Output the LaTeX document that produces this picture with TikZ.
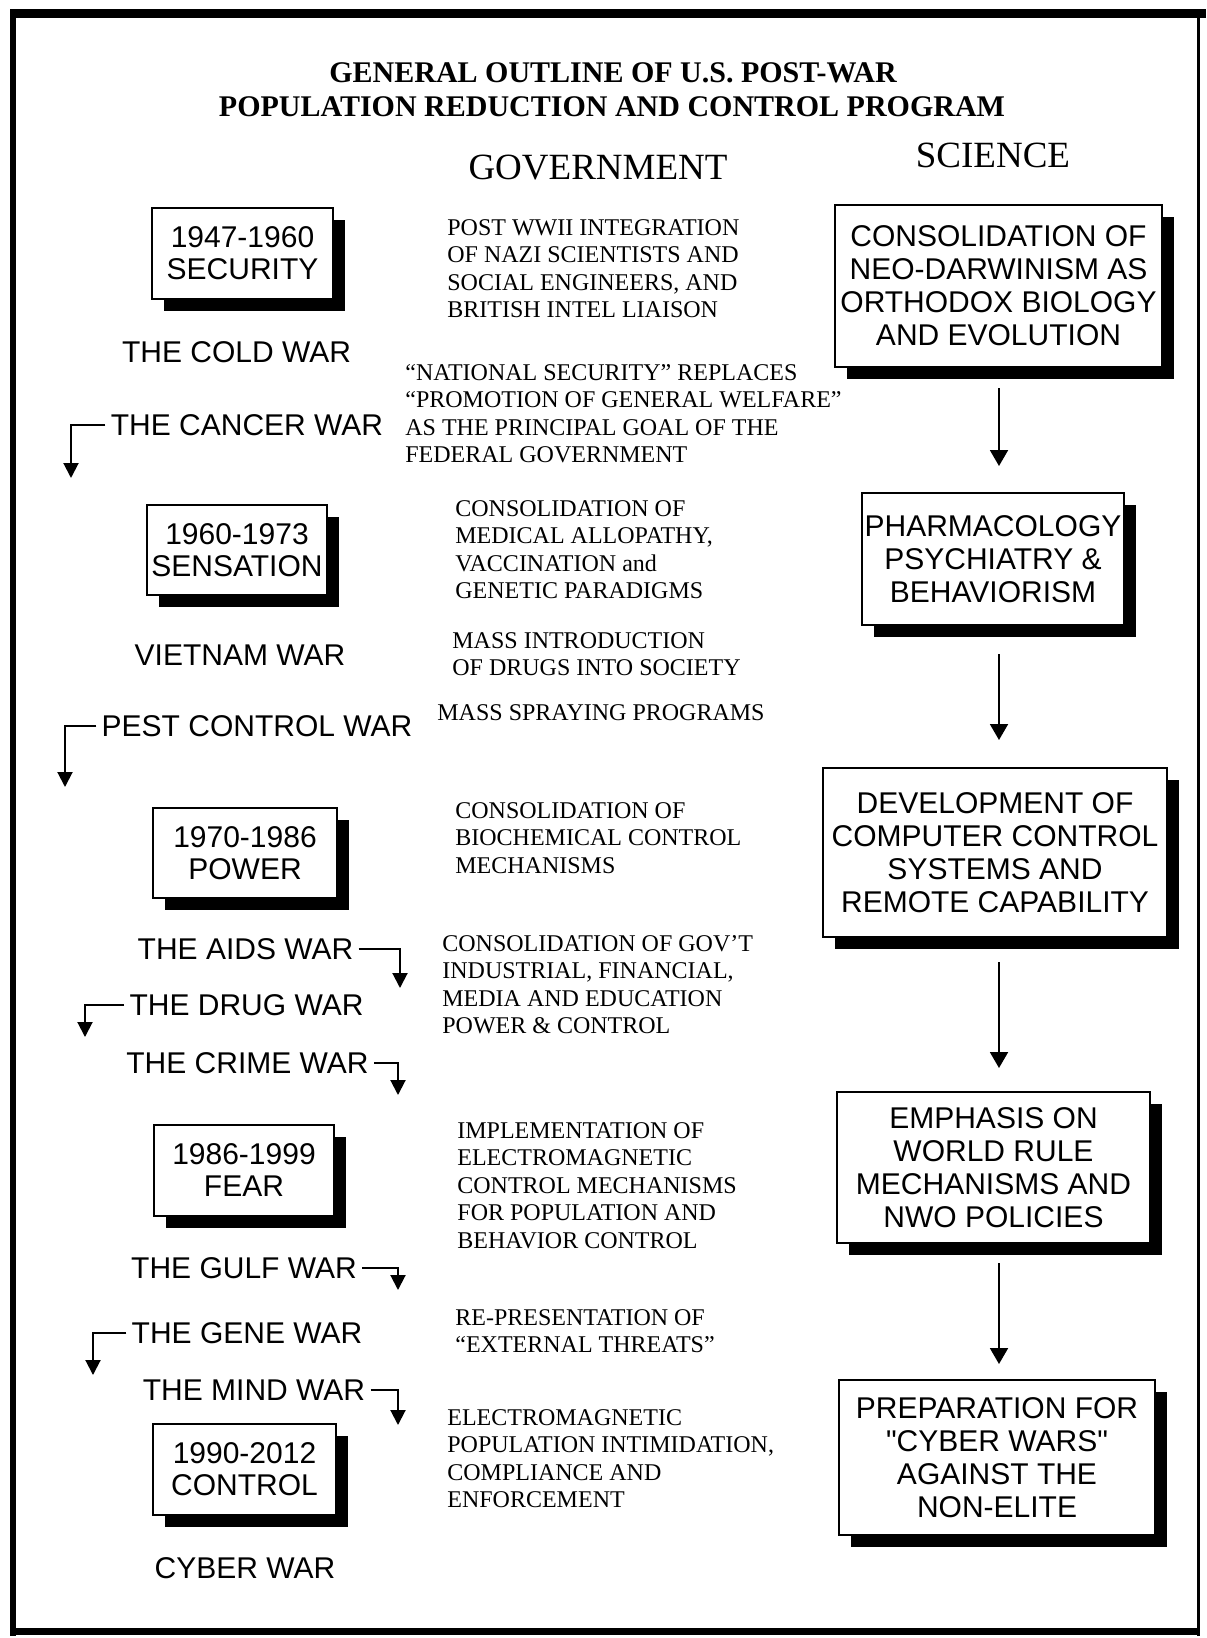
\documentclass[tikz,border=0pt]{standalone}
\usepackage{fontspec}
\setmainfont{Liberation Serif}
\newfontfamily\arialf{Liberation Sans}
\usetikzlibrary{arrows.meta,shadows,calc}
\begin{document}
\begin{tikzpicture}[x=0.5pt,y=-0.5pt,
  boxbase/.style={draw,line width=1pt,fill=white,align=center,inner sep=0pt,
    general shadow={fill=black,shadow xshift=6pt,shadow yshift=-6pt}},
  erabox/.style={boxbase,font=\arialf\fontsize{15}{16}\selectfont},
  scibox/.style={boxbase,font=\arialf\fontsize{15}{16.5}\selectfont},
  war/.style={font=\arialf\fontsize{15}{18}\selectfont,inner sep=2.5pt},
  gov/.style={anchor=north west,align=left,inner sep=0pt,font=\fontsize{12}{13.75}\selectfont},
  sarr/.style={line width=1pt,-{Triangle[width=9pt,length=8pt]}},
  warr/.style={line width=1pt,-{Triangle[width=7.5pt,length=7.5pt]}}]
\fill[white] (0,0) rectangle (1206,1638);
\useasboundingbox (0,0) rectangle (1206,1638);
% frame
\fill[black] (10,9) rectangle (1206,18);
\fill[black] (10,9) rectangle (16,1636);
\fill[black] (1197,9) rectangle (1200,1636);
\fill[black] (10,1628) rectangle (1200,1635);
% titles
\node[font=\bfseries\fontsize{15}{18}\selectfont] (t1) at (613,73) {GENERAL OUTLINE OF U.S. POST-WAR};
\node[font=\bfseries\fontsize{15}{18}\selectfont] (t2) at (612,107) {POPULATION REDUCTION AND CONTROL PROGRAM};
\node[font=\fontsize{18.5}{20}\selectfont] (gov) at (598,168) {GOVERNMENT};
\node[font=\fontsize{18.5}{20}\selectfont] (sci) at (993,155) {SCIENCE};
% era boxes
\node[erabox,minimum width=90.5pt,minimum height=45.5pt] (E1) at (242.5,253.5) {1947-1960\\SECURITY};
\node[erabox,minimum width=90pt,minimum height=45pt] (E2) at (237,550) {1960-1973\\SENSATION};
\node[erabox,minimum width=92pt,minimum height=45pt] (E3) at (245,853) {1970-1986\\POWER};
\node[erabox,minimum width=90pt,minimum height=45.5pt] (E4) at (244,1170) {1986-1999\\FEAR};
\node[erabox,minimum width=91.5pt,minimum height=45.5pt] (E5) at (244.5,1469) {1990-2012\\CONTROL};
% war labels
\node[war] (cold) at (236.5,352) {THE COLD WAR};
\node[war] (cancer) at (247,425) {THE CANCER WAR};
\node[war] (viet) at (240,655) {VIETNAM WAR};
\node[war] (pest) at (257,726) {PEST CONTROL WAR};
\node[war] (aids) at (245.5,949) {THE AIDS WAR};
\node[war] (drug) at (246.5,1005) {THE DRUG WAR};
\node[war] (crime) at (247.5,1063) {THE CRIME WAR};
\node[war] (gulf) at (244,1268) {THE GULF WAR};
\node[war] (gene) at (247,1333) {THE GENE WAR};
\node[war] (mind) at (254,1390) {THE MIND WAR};
\node[war] (cyber) at (245,1568) {CYBER WAR};
% war connectors
\coordinate (cancerend) at (71,478);
\coordinate (pestend) at (65,787);
\coordinate (aidsend) at (400,988);
\coordinate (drugend) at (85,1037);
\coordinate (crimeend) at (398,1095);
\coordinate (gulfend) at (398,1290);
\coordinate (geneend) at (93,1375);
\coordinate (mindend) at (398,1425);
\draw[warr] (cancer.west) -| (cancerend);
\draw[warr] (pest.west) -| (pestend);
\draw[warr] (aids.east) -| (aidsend);
\draw[warr] (drug.west) -| (drugend);
\draw[warr] (crime.east) -| (crimeend);
\draw[warr] (gulf.east) -| (gulfend);
\draw[warr] (gene.west) -| (geneend);
\draw[warr] (mind.east) -| (mindend);
% government texts
\node[gov] (g1) at (447,219) {POST WWII INTEGRATION\\OF NAZI SCIENTISTS AND\\SOCIAL ENGINEERS, AND\\BRITISH INTEL LIAISON};
\node[gov] (g2) at (405,364) {``NATIONAL SECURITY'' REPLACES\\``PROMOTION OF GENERAL WELFARE''\\AS THE PRINCIPAL GOAL OF THE\\FEDERAL GOVERNMENT};
\node[gov] (g3) at (455,500) {CONSOLIDATION OF\\MEDICAL ALLOPATHY,\\VACCINATION and\\GENETIC PARADIGMS};
\node[gov] (g4) at (452,632) {MASS INTRODUCTION\\OF DRUGS INTO SOCIETY};
\node[gov] (g5) at (437,704) {MASS SPRAYING PROGRAMS};
\node[gov] (g6) at (455,802) {CONSOLIDATION OF\\BIOCHEMICAL CONTROL\\MECHANISMS};
\node[gov] (g7) at (442,935) {CONSOLIDATION OF GOV'T\\INDUSTRIAL, FINANCIAL,\\MEDIA AND EDUCATION\\POWER \& CONTROL};
\node[gov] (g8) at (457,1122) {IMPLEMENTATION OF\\ELECTROMAGNETIC\\CONTROL MECHANISMS\\FOR POPULATION AND\\BEHAVIOR CONTROL};
\node[gov] (g9) at (455,1309) {RE-PRESENTATION OF\\``EXTERNAL THREATS''};
\node[gov] (g10) at (447,1409) {ELECTROMAGNETIC\\POPULATION INTIMIDATION,\\COMPLIANCE AND\\ENFORCEMENT};
% science boxes
\node[scibox,minimum width=163.5pt,minimum height=81pt] (S1) at (998.5,286) {CONSOLIDATION OF\\NEO-DARWINISM AS\\ORTHODOX BIOLOGY\\AND EVOLUTION};
\node[scibox,minimum width=131pt,minimum height=66pt] (S2) at (993,559) {PHARMACOLOGY\\PSYCHIATRY \&\\BEHAVIORISM};
\node[scibox,minimum width=172pt,minimum height=84.5pt] (S3) at (995,852.5) {DEVELOPMENT OF\\COMPUTER CONTROL\\SYSTEMS AND\\REMOTE CAPABILITY};
\node[scibox,minimum width=156.5pt,minimum height=75.5pt] (S4) at (993.5,1167.5) {EMPHASIS ON\\WORLD RULE\\MECHANISMS AND\\NWO POLICIES};
\node[scibox,minimum width=158pt,minimum height=77.5pt] (S5) at (997,1457.5) {PREPARATION FOR\\"CYBER WARS"\\AGAINST THE\\NON-ELITE};
% science arrows
\coordinate (col) at (999,0);
\draw[sarr,shorten <=10pt,shorten >=13pt] (S1.south -| col) -- (S2.north -| col);
\draw[sarr,shorten <=14pt,shorten >=13.5pt] (S2.south -| col) -- (S3.north -| col);
\draw[sarr,shorten <=12pt,shorten >=11.5pt] (S3.south -| col) -- (S4.north -| col);
\draw[sarr,shorten <=9.5pt,shorten >=7.5pt] (S4.south -| col) -- (S5.north -| col);
\end{tikzpicture}
\end{document}
